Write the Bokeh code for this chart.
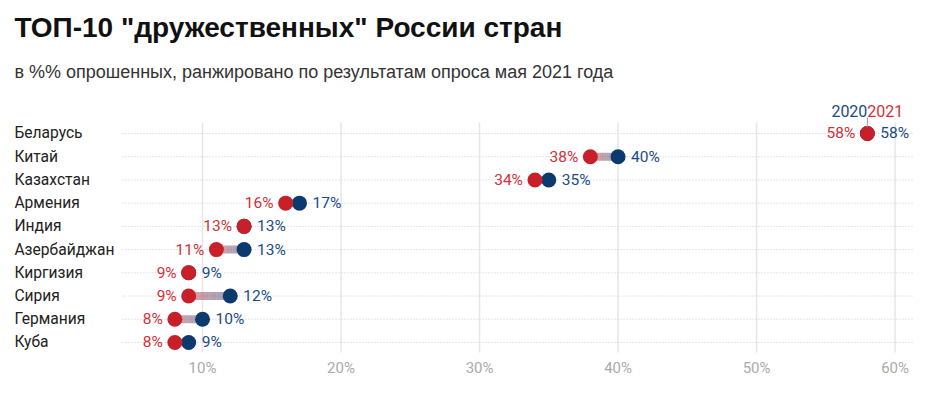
from bokeh.plotting import figure
from bokeh.models import Range1d, FixedTicker, PrintfTickFormatter, ColumnDataSource
from bokeh.core.properties import value
from bokeh.embed import file_html
from bokeh.resources import INLINE

countries = ["Беларусь", "Китай", "Казахстан", "Армения", "Индия",
             "Азербайджан", "Киргизия", "Сирия", "Германия", "Куба"]
v2021 = [58, 38, 34, 16, 13, 11, 9, 9, 8, 8]
v2020 = [58, 40, 35, 17, 13, 13, 9, 12, 10, 9]
ticks = [10, 20, 30, 40, 50, 60]
title_text = 'ТОП-10 "дружественных" России стран'
subtitle_text = "в %% опрошенных, ранжировано по результатам опроса мая 2021 года"

RED = "#c8202a"
BLUE = "#0d3a6e"
RED_T = "#d42f37"
BLUE_T = "#1a4b86"

rows = list(range(len(countries)))

p = figure(width=926, height=388, output_backend="svg", toolbar_location=None,
           x_range=Range1d(-4.01, 62.27), y_range=Range1d(9.518, -5.383),
           y_axis_location=None, min_border_left=8, min_border_right=0,
           min_border_top=8, min_border_bottom=34)
p.outline_line_color = None
p.xgrid.visible = False
p.ygrid.visible = False

ax = p.xaxis[0]
ax.ticker = FixedTicker(ticks=ticks)
ax.formatter = PrintfTickFormatter(format="%d%%")
ax.axis_line_color = None
ax.major_tick_line_color = None
ax.minor_tick_line_color = None
ax.major_tick_out = 0
ax.major_label_standoff = 4
ax.major_label_text_font = "Roboto"
ax.major_label_text_font_size = "15px"
ax.major_label_text_color = "#aaaaaa"

# vertical grid lines
p.segment(x0=ticks, x1=ticks, y0=[-0.47] * len(ticks), y1=[9.43] * len(ticks),
          line_color="#e6e6e6", line_width=1.5)
# dotted row lines
p.segment(x0=[4.22] * len(rows), x1=[61.3] * len(rows), y0=rows, y1=rows,
          line_color="#cccccc", line_width=1, line_dash="1 2")

# gradient connectors
def mix(c1, c2, t):
    a = [int(c1[i:i + 2], 16) for i in (1, 3, 5)]
    b = [int(c2[i:i + 2], 16) for i in (1, 3, 5)]
    return "#%02x%02x%02x" % tuple(int(round(a[k] + (b[k] - a[k]) * t)) for k in range(3))

N = 12
gx0, gx1, gy, gc = [], [], [], []
for i in rows:
    a, b = v2021[i], v2020[i]
    if a == b:
        continue
    for k in range(N):
        gx0.append(a + (b - a) * k / N)
        gx1.append(a + (b - a) * (k + 1) / N)
        gy.append(i)
        gc.append(mix(RED, BLUE, (k + 0.5) / N))
p.segment(x0=gx0, x1=gx1, y0=gy, y1=gy, line_color=gc, line_width=8,
          line_alpha=0.45, line_cap="butt")

src = ColumnDataSource(dict(y=rows, c=countries, a=v2021, b=v2020,
                            la=["%d%%" % v for v in v2021],
                            lb=["%d%%" % v for v in v2020]))
p.scatter(x="b", y="y", source=src, size=15, fill_color=BLUE, line_color=None)
p.scatter(x="a", y="y", source=src, size=15, fill_color=RED, line_color=None)

p.text(x="a", y="y", text="la", source=src, x_offset=-12, text_align="right",
       text_baseline="middle", text_font=value("Roboto"),
       text_font_size=value("15.5px"), text_color=RED_T)
p.text(x="b", y="y", text="lb", source=src, x_offset=13, text_align="left",
       text_baseline="middle", text_font=value("Roboto"),
       text_font_size=value("15.5px"), text_color=BLUE_T)

# category labels
p.text(x=[-3.584] * len(rows), y=rows, text=countries, text_align="left",
       text_baseline="middle", text_font=value("Roboto"),
       text_font_size=value("15.6px"), text_color="#222222")

# legend on top row
p.segment(x0=[v2021[0]], x1=[v2021[0]], y0=[-0.69], y1=[-0.26],
          line_color="#999999", line_width=1)
p.text(x=[v2020[0]], y=[-0.99], text=["2020"], text_align="right",
       text_baseline="middle", text_font=value("Roboto"),
       text_font_size=value("16px"), text_color=BLUE_T)
p.text(x=[v2021[0]], y=[-0.99], text=["2021"], text_align="left",
       text_baseline="middle", text_font=value("Roboto"),
       text_font_size=value("16px"), text_color=RED_T)

# title & subtitle
p.text(x=[-3.584], y=[-4.565], text=[title_text], text_align="left",
       text_baseline="middle", text_font=value("Liberation Sans"),
       text_font_style="bold", text_font_size=value("28px"), text_color="#111111")
p.text(x=[-3.584], y=[-2.627], text=[subtitle_text], text_align="left",
       text_baseline="middle", text_font=value("Liberation Sans"),
       text_font_size=value("18px"), text_color="#333333")

open("out.html", "w").write(file_html(p, INLINE))
